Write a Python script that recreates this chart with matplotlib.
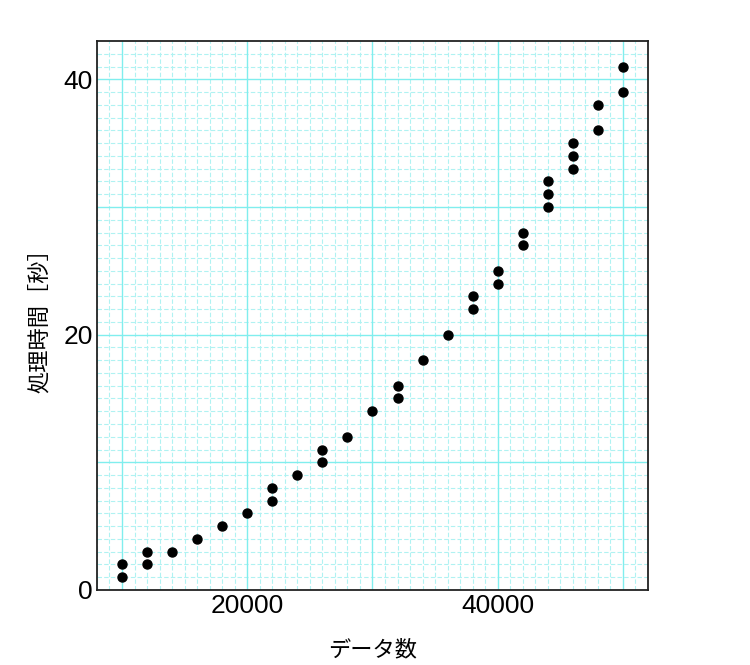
import matplotlib
matplotlib.use('Agg')
import matplotlib.pyplot as plt
from matplotlib.ticker import MultipleLocator

# データ数 と 処理時間 [秒]
data_count = [10000, 10000, 12000, 12000, 14000, 16000, 18000, 20000,
              22000, 22000, 24000, 26000, 26000, 28000, 30000, 32000, 32000,
              34000, 36000, 38000, 38000, 40000, 40000, 42000, 42000,
              44000, 44000, 44000, 46000, 46000, 46000, 48000, 48000,
              50000, 50000]
proc_time = [1, 2, 2, 3, 3, 4, 5, 6,
             7, 8, 9, 10, 11, 12, 14, 15, 16,
             18, 20, 22, 23, 24, 25, 27, 28,
             30, 31, 32, 33, 34, 35, 36, 38,
             39, 41]

plt.rcParams['font.family'] = ['Liberation Sans', 'Noto Sans CJK JP', 'DejaVu Sans']

fig = plt.figure(figsize=(7.5, 6.65), dpi=100)
ax = fig.add_axes([0.1293, 0.1128, 0.7347, 0.8255])

ax.scatter(data_count, proc_time, s=42, color='black', zorder=3)

ax.set_xlim(8000, 52000)
ax.set_ylim(0, 43)

ax.xaxis.set_major_locator(MultipleLocator(20000))
ax.yaxis.set_major_locator(MultipleLocator(20))

# 10000 / 10 ごとのグリッド線
for gx in range(10000, 52000, 10000):
    ax.axvline(gx, color='#80eeee', lw=1.0, zorder=1)
for gy in range(10, 43, 10):
    ax.axhline(gy, color='#80eeee', lw=1.0, zorder=1)
# 細かい破線グリッド
for gx in range(8000, 52001, 1000):
    if gx % 10000:
        ax.axvline(gx, color='#b0f2f2', lw=0.8, ls=(0, (4, 2)), zorder=0.5)
for gy in range(1, 43):
    if gy % 10:
        ax.axhline(gy, color='#b0f2f2', lw=0.8, ls=(0, (4, 2)), zorder=0.5)

ax.tick_params(length=0, labelsize=19, pad=3)
for s in ax.spines.values():
    s.set_color('#222222')
    s.set_linewidth(1.3)

ax.set_xlabel('データ数', fontsize=16, labelpad=16)
ax.set_ylabel('処理時間［秒］', fontsize=16, labelpad=9)

fig.savefig('out.png', dpi=100)
